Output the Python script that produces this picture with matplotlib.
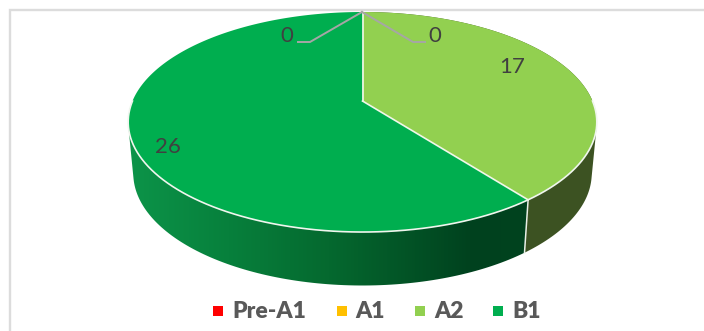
import numpy as np
import matplotlib
matplotlib.use('Agg')
import matplotlib.pyplot as plt
from matplotlib.patches import Polygon, Rectangle
from matplotlib.colors import LinearSegmentedColormap

categories = ['Pre-A1', 'A1', 'A2', 'B1']
values = [0, 0, 17, 26]
colors = ['#ff0000', '#ffc000', '#92d050', '#00ae4f']

W, H = 704, 331
CX = 362.5
TOP = dict(c=230, a=106, y0=101, k=0.191)
BOT = dict(c=225, a=108, y0=152, k=0.191)


def project(theta, d):
    # angle clockwise from the top -> pixel position on a disc in perspective
    u, v = np.sin(theta), np.cos(theta)
    w = 1 / (1 + d['k'] * v)
    return CX + d['c'] * u * w, d['y0'] - d['a'] * v * w


def arc(t0, t1, d, n=200):
    x, y = project(np.linspace(t0, t1, n), d)
    return np.column_stack([x, y])


def hull(pts):
    # convex hull, so the wall gets straight tangent edges between the two discs
    pts = sorted(map(tuple, pts))

    def half(seq):
        out = []
        for p in seq:
            while len(out) > 1 and ((out[-1][0] - out[-2][0]) * (p[1] - out[-2][1])
                                    - (out[-1][1] - out[-2][1]) * (p[0] - out[-2][0])) <= 0:
                out.pop()
            out.append(p)
        return out[:-1]
    return np.array(half(pts) + half(pts[::-1]))


fig = plt.figure(figsize=(W / 100, H / 100), dpi=100)
ax = fig.add_axes([0, 0, 1, 1])
ax.set_xlim(0, W)
ax.set_ylim(H, 0)
ax.axis('off')

# chart frame
ax.add_patch(Rectangle((9.5, 9.5), W + 10, H + 10, fc='white', ec='#dcdcdc', lw=1.7))

total = sum(values)
edges = np.cumsum([0] + values) / total * 2 * np.pi

# side wall, A2
a2_t0, a2_t1 = edges[2], edges[3]
b1_t0, b1_t1 = edges[3], edges[4]
side_a2 = hull(np.vstack([arc(a2_t0, a2_t1, TOP), arc(a2_t0, a2_t1, BOT)]))
ax.add_patch(Polygon(side_a2, closed=True, fc='#3c5222', ec='none', zorder=2))

# side wall, B1: horizontal shading
side_b1 = hull(np.vstack([arc(b1_t0, b1_t1, TOP), arc(b1_t0, b1_t1, BOT)]))
clip = Polygon(side_b1, closed=True, fc='none', ec='none', zorder=2)
ax.add_patch(clip)
cmap = LinearSegmentedColormap.from_list('side', [
    (0.0, '#0c9449'), (0.25, '#07803c'), (0.5, '#05692f'),
    (0.86, '#00411e'), (1.0, '#00431f')])
grad = ax.imshow(np.linspace(0, 1, 256)[None, :], cmap=cmap, aspect='auto',
                 extent=(128, 530, 300, 100), zorder=2)
grad.set_clip_path(clip)
ax.set_xlim(0, W)
ax.set_ylim(H, 0)

# seam between the two walls
seam_top = project(b1_t0, TOP)
seam_bot = project(b1_t0, BOT)
ax.plot([seam_top[0], seam_bot[0]], [seam_top[1], seam_bot[1]], color='#e8efe6', lw=1.1, zorder=3)

# top faces
centre = (CX, TOP['y0'])
for i in [2, 3]:
    pts = np.vstack([[centre], arc(edges[i], edges[i + 1], TOP)])
    ax.add_patch(Polygon(pts, closed=True, fc=colors[i], ec='none', zorder=4))
ax.plot(*arc(np.pi / 2, 3 * np.pi / 2, TOP).T, color='#f0f6ee', lw=1.2, zorder=5)
for t in [edges[2], edges[3]]:
    p = project(t, TOP)
    ax.plot([centre[0], p[0]], [centre[1], p[1]], color='#f2f7ea', lw=1.2, zorder=5)

# data labels
lab_col = '#404040'
ax.plot([362, 310, 298], [12, 42, 42], color='#a6a6a6', lw=1.4, zorder=6)
ax.plot([362, 413, 425], [12, 42, 42], color='#a6a6a6', lw=1.4, zorder=6)
label_pos = [(287, 36), (435, 36), (512, 67), (167.5, 147)]
for v, (x, y) in zip(values, label_pos):
    ax.text(x, y, str(v), ha='center', va='center', family='Lato', fontsize=16, color=lab_col, zorder=7)

# legend
marker_x = [213, 337, 415, 493]
text_x = [232, 355, 434, 512]
for name, col, mx, tx in zip(categories, colors, marker_x, text_x):
    ax.add_patch(Rectangle((mx, 306), 9.5, 9.5, fc=col, ec='none'))
    ax.text(tx, 311.5, name, ha='left', va='center', family='Lato', weight='heavy', fontsize=16.5, color='#595959')

fig.savefig('out.png', dpi=100)
